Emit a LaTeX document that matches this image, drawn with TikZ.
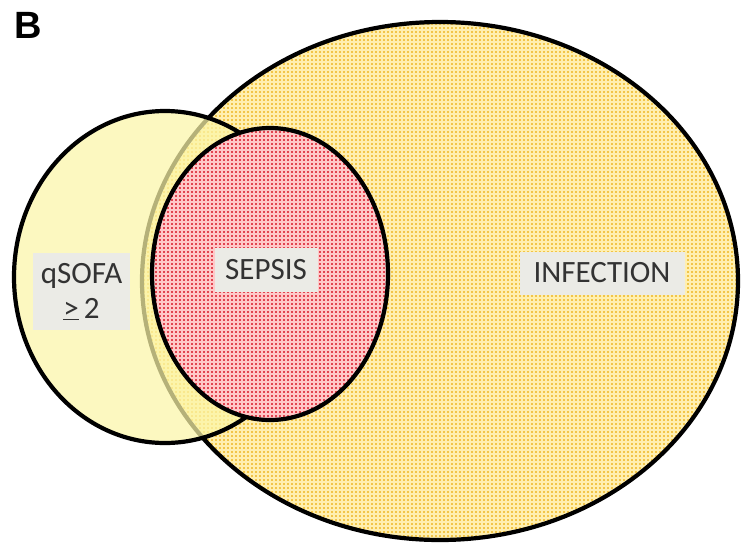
\documentclass[tikz,border=0pt]{standalone}
\usepackage{fontspec}
\usetikzlibrary{shapes.geometric}
\setmainfont{Carlito}
\newfontfamily\labfont{Liberation Sans}
\definecolor{infbase}{HTML}{F2C548}
\definecolor{infline}{HTML}{FFEFB0}
\definecolor{sepbase}{HTML}{E24450}
\definecolor{sepline}{HTML}{FFC8C8}
\definecolor{qfill}{HTML}{FCF6A8}
\definecolor{boxgray}{HTML}{EBEBE6}
\definecolor{txt}{HTML}{333333}
\tikzset{
  outline/.style={draw=black, line width=4.2pt},
  labbox/.style={fill=boxgray, text=txt, inner sep=0pt, align=center, font=\fontsize{31}{34}\selectfont}
}
\begin{document}
\begin{tikzpicture}[x=1pt,y=-1pt]
\useasboundingbox (0,0) rectangle (744,547);
\fill[white] (0,0) rectangle (744,547);
% INFECTION ellipse with grid pattern
\begin{scope}
  \clip (440,281) ellipse [x radius=298, y radius=259];
  \fill[infbase] (140,20) rectangle (740,542);
  \foreach \i in {0,...,150} {
    \draw[infline, line width=1.4pt] (142+4*\i,20) -- (142+4*\i,542);
  }
  \foreach \j in {0,...,131} {
    \draw[infline, line width=1.4pt] (140,22+4*\j) -- (740,22+4*\j);
  }
\end{scope}
\node[outline, ellipse, minimum width=596pt, minimum height=518pt, inner sep=0pt] (infection) at (440,281) {};
% qSOFA ellipse (semi-transparent)
\fill[qfill, opacity=0.72] (165,277) ellipse [x radius=151, y radius=166];
\node[outline, ellipse, minimum width=302pt, minimum height=332pt, inner sep=0pt] (qsofa) at (165,277) {};
% SEPSIS ellipse with grid pattern
\begin{scope}
  \clip (270,274) ellipse [x radius=118, y radius=146];
  \fill[sepbase] (150,126) rectangle (390,422);
  \foreach \i in {0,...,60} {
    \draw[sepline, line width=1.4pt] (150+4*\i,126) -- (150+4*\i,422);
  }
  \foreach \j in {0,...,74} {
    \draw[sepline, line width=1.4pt] (150,126+4*\j) -- (390,126+4*\j);
  }
\end{scope}
\node[outline, ellipse, minimum width=236pt, minimum height=292pt, inner sep=0pt] (sepsis) at (270,274) {};
% labels
\node[labbox, minimum width=165pt, minimum height=43pt] (inflab) at (602,273) {INFECTION};
\node[labbox, minimum width=103pt, minimum height=44pt] (seplab) at (266,270) {SEPSIS};
\node[labbox, minimum width=97pt, minimum height=77pt] (qlab) at (81.5,291.5) {qSOFA\\[1pt]\underline{>}\,2};
\node[font=\labfont\bfseries\fontsize{38}{41}\selectfont, anchor=north west, inner sep=0pt] (blabel) at (14,12) {B};
\end{tikzpicture}
\end{document}
